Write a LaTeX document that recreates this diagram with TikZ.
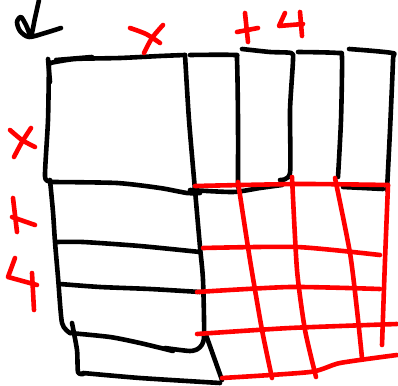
\documentclass[tikz,border=0pt]{standalone}
\begin{document}
\begin{tikzpicture}[x=1pt,y=-1pt,
  blk/.style={draw=black,line width=4.6pt,line cap=round,line join=round},
  rd/.style={draw=red,line width=4.6pt,line cap=round,line join=round}]
\useasboundingbox[fill=white] (0,0) rectangle (398,385);
% arrow
\draw[blk] plot[smooth,tension=0.5] coordinates {(39,0) (35,18) (31,35) (26,25) (21,17) (17,22) (20,31) (29,37) (45,33) (61,28)};
% big square
\draw[blk] plot[smooth,tension=0.4] coordinates {(50,63) (75,59) (120,58) (160,56) (185,55)};
\draw[blk] (56,60) -- (92,57);
\draw[blk] (48,59) -- (50,82);
\draw[blk] plot[smooth,tension=0.4] coordinates {(49,62) (48,120) (45,176) (50,181)};
\draw[blk] plot[smooth,tension=0.4] coordinates {(52,182) (117,183) (160,188) (187,193) (200,193)};
\draw[blk] plot[smooth,tension=0.4] coordinates {(185,55) (189,120) (195,190) (200,247) (203,280) (204,337) (199,348) (190,351) (165,348)};
% horizontal strips (left)
\draw[blk] plot[smooth,tension=0.4] coordinates {(50,180) (53,212) (55,242) (58,277) (62,323) (70,333)};
\draw[blk] plot[smooth,tension=0.4] coordinates {(57,242) (83,242) (140,246) (200,252)};
\draw[blk] plot[smooth,tension=0.4] coordinates {(60,284) (100,287) (150,289) (200,292)};
\draw[blk] plot[smooth,tension=0.4] coordinates {(70,333) (110,337) (140,343) (173,351)};
\draw[blk] plot[smooth,tension=0.4] coordinates {(72,323) (77,350) (78,372) (83,374)};
\draw[blk] plot[smooth,tension=0.4] coordinates {(83,373) (140,378) (220,383)};
\draw[blk] (206,335) -- (222,380);
% vertical strips (top)
\draw[blk] plot[smooth,tension=0.4] coordinates {(190,55) (234,55) (237,60) (238,120) (238,187)};
\draw[blk] plot[smooth,tension=0.4] coordinates {(242,49) (270,52) (291,53) (293,60) (290,110) (290,173) (280,180)};
\draw[blk] plot[smooth,tension=0.4] coordinates {(298,52) (338,53) (342,58) (341,120) (338,177)};
\draw[blk] plot[smooth,tension=0.4] coordinates {(349,49) (392,53) (393,60) (390,130) (387,190)};
\draw[blk] plot[smooth,tension=0.4] coordinates {(190,190) (233,192) (260,188) (282,185)};
\draw[blk] (343,187) -- (383,189);
% red grid
\draw[rd] plot[smooth,tension=0.4] coordinates {(195,186) (300,184) (388,185)};
\draw[rd] plot[smooth,tension=0.4] coordinates {(388,185) (385,260) (382,345)};
\draw[rd] plot[smooth,tension=0.4] coordinates {(238,182) (250,260) (262,330) (272,378)};
\draw[rd] plot[smooth,tension=0.4] coordinates {(292,177) (297,270) (305,330) (316,377)};
\draw[rd] plot[smooth,tension=0.4] coordinates {(335,178) (350,253) (357,310) (362,358)};
\draw[rd] plot[smooth,tension=0.4] coordinates {(203,248) (297,247) (380,255)};
\draw[rd] plot[smooth,tension=0.4] coordinates {(197,292) (290,287) (380,289)};
\draw[rd] plot[smooth,tension=0.4] coordinates {(197,334) (290,328) (397,324)};
\draw[rd] plot[smooth,tension=0.4] coordinates {(222,378) (310,372) (340,363) (397,355)};
% red labels
\draw[rd] plot[smooth,tension=0.5] coordinates {(130,28) (146,34) (160,43)};
\draw[rd] plot[smooth,tension=0.5] coordinates {(163,25) (152,38) (144,53)};
\draw[rd] (237,32) -- (258,28);
\draw[rd] (245,13) -- (248,42);
\draw[rd] (285,13) -- (279,26) -- (303,24);
\draw[rd] (300,12) -- (302,36);
\draw[rd] plot[smooth,tension=0.5] coordinates {(10,130) (22,140) (35,147)};
\draw[rd] plot[smooth,tension=0.5] coordinates {(31,128) (22,142) (14,157)};
\draw[rd] (13,198) -- (17,232);
\draw[rd] (12,217) -- (35,225);
\draw[rd] (15,258) -- (8,277) -- (37,285);
\draw[rd] (32,273) -- (34,310);
\end{tikzpicture}
\end{document}
